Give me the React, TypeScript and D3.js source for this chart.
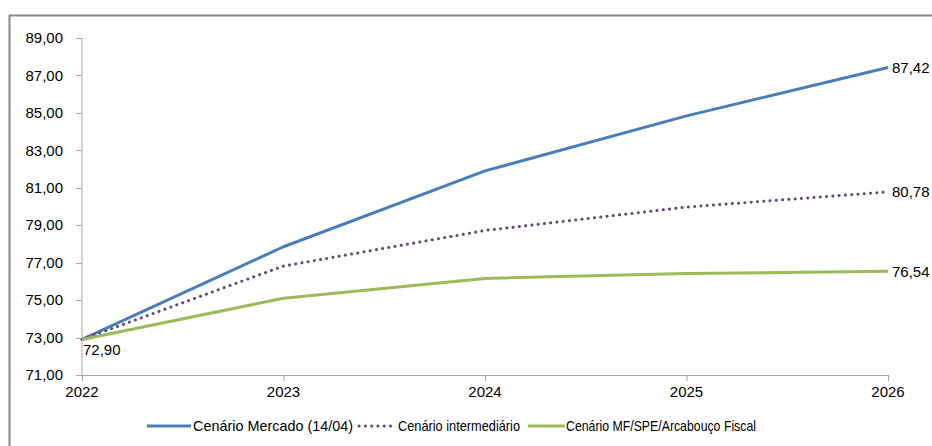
import React from "react";
import * as d3 from "d3";

const years = [2022, 2023, 2024, 2025, 2026];
const mercado = [72.9, 77.85, 81.9, 84.84, 87.42];
const intermediario = [72.9, 76.82, 78.72, 79.97, 80.78];
const mfspe = [72.9, 75.1, 76.16, 76.42, 76.54];
const yTicks = [71, 73, 75, 77, 79, 81, 83, 85, 87, 89];
const seriesNames = ["Cenário Mercado (14/04)", "Cenário intermediário", "Cenário MF/SPE/Arcabouço Fiscal"];

const W = 932, H = 446;
const x = d3.scalePoint<number>().domain(years).range([82, 888]);
const y = d3.scaleLinear().domain([71, 89]).range([375, 38]);
const fmt = (v: number) => v.toFixed(2).replace(".", ",");
const line = d3.line<number>().x((_, i) => x(years[i]) as number).y((d) => y(d));

const FONT = "'Liberation Sans', Arial, sans-serif";
const axisColor = "#a6a6a6";

const series = [
  { name: seriesNames[0], data: mercado, color: "#4A7EBB", dash: undefined, cap: "butt" },
  { name: seriesNames[1], data: intermediario, color: "#604A7B", dash: "0.1 6.2", cap: "round" },
  { name: seriesNames[2], data: mfspe, color: "#9BBB59", dash: undefined, cap: "butt" },
];

const legend = [
  { x0: 147, x1: 191, tx: 193, tl: 160 },
  { x0: 359, x1: 393, tx: 398, tl: 122 },
  { x0: 528, x1: 565, tx: 566, tl: 190 },
];

export default function App() {
  return (
    <div style={{ position: "absolute", left: 0, top: 0 }}>
      <svg width={W} height={H} style={{ display: "block", background: "#fff" }} fontFamily={FONT}>
        <rect x={9.5} y={15.5} width={W + 20} height={H + 20} fill="#fff" stroke="#868686" strokeWidth={2} />
        {/* axes */}
        <line x1={82} x2={82} y1={y(89)} y2={y(71)} stroke={axisColor} />
        <line x1={82} x2={888} y1={y(71) + 0.5} y2={y(71) + 0.5} stroke={axisColor} />
        {yTicks.map((t) => (
          <g key={t}>
            <line x1={76} x2={82} y1={Math.round(y(t)) + 0.5} y2={Math.round(y(t)) + 0.5} stroke={axisColor} />
            <text x={63} y={y(t)} dy="0.35em" textAnchor="end" fontSize={15} fill="#000">{fmt(t)}</text>
          </g>
        ))}
        {years.map((yr) => (
          <g key={yr}>
            <line x1={(x(yr) as number) + 0.5} x2={(x(yr) as number) + 0.5} y1={375} y2={381} stroke={axisColor} />
            <text x={x(yr) as number} y={397} textAnchor="middle" fontSize={15} fill="#000">{yr}</text>
          </g>
        ))}
        {/* lines */}
        {series.map((s) => (
          <path key={s.name} d={line(s.data) || ""} fill="none" stroke={s.color} strokeWidth={3}
            strokeDasharray={s.dash} strokeLinecap={s.cap as any} strokeLinejoin="round" />
        ))}
        {/* labels */}
        {series.map((s) => (
          <text key={s.name + "l"} x={892} y={y(s.data[4])} dy="0.35em" fontSize={15} fill="#000">{fmt(s.data[4])}</text>
        ))}
        <text x={83} y={y(mercado[0]) + 10} dy="0.35em" fontSize={15} fill="#000">{fmt(mercado[0])}</text>
        {/* legend */}
        {series.map((s, i) => (
          <g key={s.name + "g"}>
            <line x1={legend[i].x0} x2={legend[i].x1} y1={426} y2={426} stroke={s.color} strokeWidth={3}
              strokeDasharray={s.dash} strokeLinecap={s.cap as any} />
            <text x={legend[i].tx} y={426} dy="0.35em" fontSize={15} fill="#000" textLength={legend[i].tl} lengthAdjust="spacingAndGlyphs">{s.name}</text>
          </g>
        ))}
      </svg>
    </div>
  );
}
